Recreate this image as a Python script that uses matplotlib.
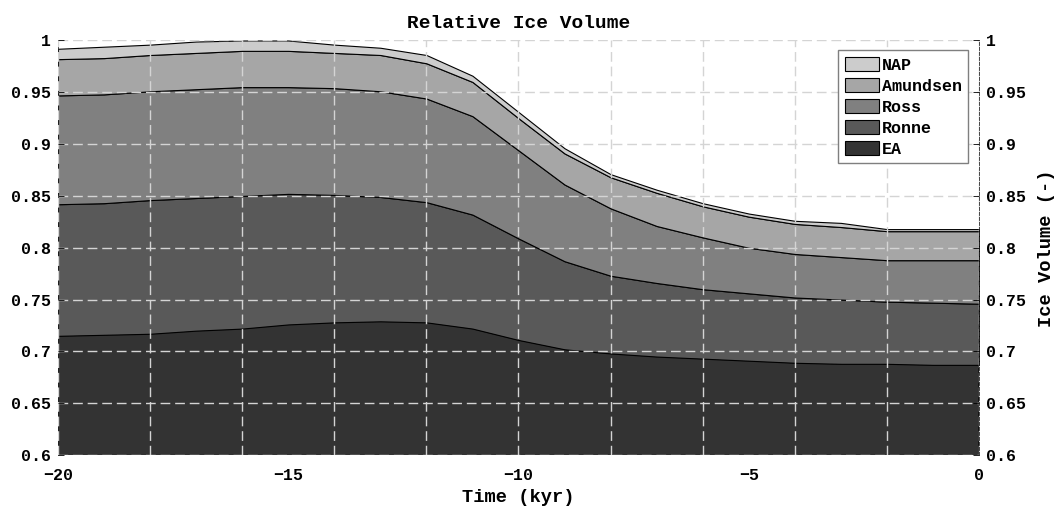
import numpy as np
import matplotlib
matplotlib.use('Agg')
import matplotlib.pyplot as plt
from matplotlib.ticker import MultipleLocator, FuncFormatter

# time axis (kyr)
time_kyr = [-20, -19, -18, -17, -16, -15, -14, -13, -12, -11, -10,
            -9, -8, -7, -6, -5, -4, -3, -2, -1, 0]

# relative ice volume contribution of each sector (stacked from bottom)
ea = [0.715, 0.716, 0.717, 0.720, 0.722, 0.726, 0.728, 0.729, 0.728, 0.722, 0.711,
      0.702, 0.698, 0.695, 0.693, 0.691, 0.689, 0.688, 0.688, 0.687, 0.687]
ronne = [0.127, 0.127, 0.129, 0.128, 0.128, 0.126, 0.123, 0.120, 0.116, 0.110, 0.098,
         0.085, 0.075, 0.071, 0.067, 0.065, 0.063, 0.062, 0.060, 0.060, 0.059]
ross = [0.105, 0.105, 0.105, 0.105, 0.105, 0.103, 0.103, 0.102, 0.100, 0.095, 0.085,
        0.074, 0.065, 0.055, 0.050, 0.044, 0.042, 0.041, 0.040, 0.041, 0.042]
amundsen = [0.035, 0.035, 0.035, 0.035, 0.035, 0.035, 0.034, 0.035, 0.034, 0.033, 0.031,
            0.030, 0.030, 0.032, 0.030, 0.030, 0.029, 0.029, 0.028, 0.028, 0.028]
nap = [0.010, 0.011, 0.010, 0.011, 0.010, 0.010, 0.008, 0.007, 0.008, 0.006, 0.006,
       0.005, 0.003, 0.003, 0.003, 0.003, 0.003, 0.004, 0.002, 0.002, 0.002]

sector_names = ['EA', 'Ronne', 'Ross', 'Amundsen', 'NAP']
sector_colors = ['#333333', '#595959', '#808080', '#a6a6a6', '#cccccc']

plt.rcParams['font.family'] = ['Liberation Mono', 'DejaVu Sans Mono']
plt.rcParams['font.weight'] = 'bold'

fig = plt.figure(figsize=(10.56, 5.08), dpi=100)
ax = fig.add_axes([0.0549, 0.1043, 0.8722, 0.8160])

polys = ax.stackplot(time_kyr, ea, ronne, ross, amundsen, nap,
                     colors=sector_colors, labels=sector_names,
                     edgecolor='black', linewidth=0.8)

ax.set_xlim(-20, 0)
ax.set_ylim(0.6, 1.0)

# labels every 5 kyr, grid every 2 kyr
ax.xaxis.set_major_locator(MultipleLocator(5))
ax.xaxis.set_minor_locator(MultipleLocator(2))
ax.xaxis.remove_overlapping_locs = False
ax.yaxis.set_major_locator(MultipleLocator(0.05))
ax.yaxis.set_major_formatter(FuncFormatter(lambda v, p: '%g' % round(v, 2)))

grid_style = dict(color='#d4d4d4', linestyle=(0, (7, 3.5)), linewidth=1.0)
ax.grid(False)
ax.yaxis.grid(True, which='major', **grid_style)
ax.xaxis.grid(True, which='minor', **grid_style)
ax.set_axisbelow(False)

ax.tick_params(axis='y', which='both', left=True, right=True,
               labelleft=True, labelright=True, direction='in',
               length=4, width=0.6, labelsize=12, pad=5)
ax.tick_params(axis='x', which='major', direction='in', length=0,
               labelsize=12, pad=9)
ax.tick_params(axis='x', which='minor', length=0)

for side in ['top', 'bottom']:
    ax.spines[side].set_visible(False)
for side in ['left', 'right']:
    ax.spines[side].set_color('#262626')
    ax.spines[side].set_linewidth(0.6)
ax.spines['right'].set_linestyle((0, (4, 2)))

ax.set_title('Relative Ice Volume', fontsize=14, fontweight='bold', pad=9)
ax.set_xlabel('Time (kyr)', fontsize=13.5, fontweight='bold', labelpad=5)
ax.yaxis.set_label_position('right')
ax.set_ylabel('Ice Volume (-)', fontsize=13.5, fontweight='bold', labelpad=9)

handles, labels = ax.get_legend_handles_labels()
leg = ax.legend(handles[::-1], labels[::-1], loc='upper right',
                bbox_to_anchor=(0.9885, 0.976), fontsize=12, frameon=True,
                fancybox=False, edgecolor='#7f7f7f', framealpha=1,
                handlelength=2.05, handleheight=0.95, handletextpad=0.15,
                labelspacing=0.3, borderpad=0.4, borderaxespad=0.0)
leg.get_frame().set_linewidth(1.0)

plt.savefig('out.png', dpi=100)
